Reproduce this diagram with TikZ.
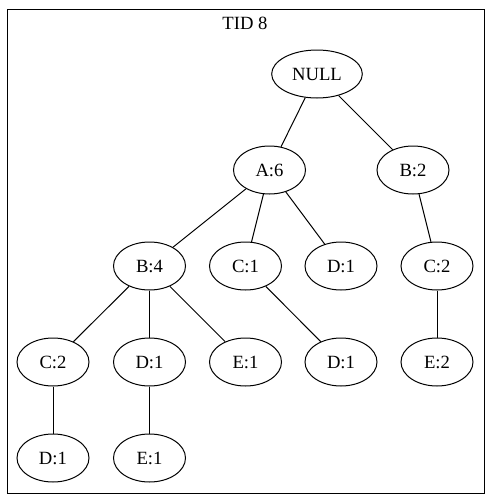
\documentclass[tikz,border=0pt]{standalone}
\usepackage{fontspec}
\setmainfont{Liberation Serif}
\usepackage{tikz}
\usetikzlibrary{shapes,arrows}
\usetikzlibrary{positioning}
\tikzstyle{item} = [draw, ellipse, inner sep=0pt,
    minimum height=36pt, minimum width=54pt, font=\fontsize{14}{16}\selectfont]
\tikzstyle{link} = [draw, line width=0.75pt]

\begin{document}
\begin{tikzpicture}[x=0.75pt, y=-0.75pt, line width=0.75pt]
      \useasboundingbox (0,0) rectangle (493,501);
      \draw (7,9) rectangle (484,493);
      \node [font=\fontsize{14}{16}\selectfont] (title) at (245,23) {TID 8};

      \node [item, minimum width=68pt] (null) at (317,74) {NULL};
      \node [item] (a6) at (269.5,170) {A:6};
      \node [item] (b2) at (413,170) {B:2};
      \node [item] (b4) at (149.5,266) {B:4};
      \node [item] (c1) at (245.5,266) {C:1};
      \node [item] (d1a) at (341,266) {D:1};
      \node [item] (c2a) at (437,266) {C:2};
      \node [item] (c2b) at (53,362) {C:2};
      \node [item] (d1b) at (149.5,362) {D:1};
      \node [item] (e1a) at (245.5,362) {E:1};
      \node [item] (d1c) at (341,362) {D:1};
      \node [item] (e2) at (437,362) {E:2};
      \node [item] (d1d) at (53,458) {D:1};
      \node [item] (e1b) at (149.5,458) {E:1};

      \draw [link] (null) -- (a6);
      \draw [link] (null) -- (b2);
      \draw [link] (a6) -- (b4);
      \draw [link] (a6) -- (c1);
      \draw [link] (a6) -- (d1a);
      \draw [link] (b2) -- (c2a);
      \draw [link] (b4) -- (c2b);
      \draw [link] (b4) -- (d1b);
      \draw [link] (b4) -- (e1a);
      \draw [link] (c1) -- (d1c);
      \draw [link] (c2a) -- (e2);
      \draw [link] (c2b) -- (d1d);
      \draw [link] (d1b) -- (e1b);
    \end{tikzpicture}
\end{document}
